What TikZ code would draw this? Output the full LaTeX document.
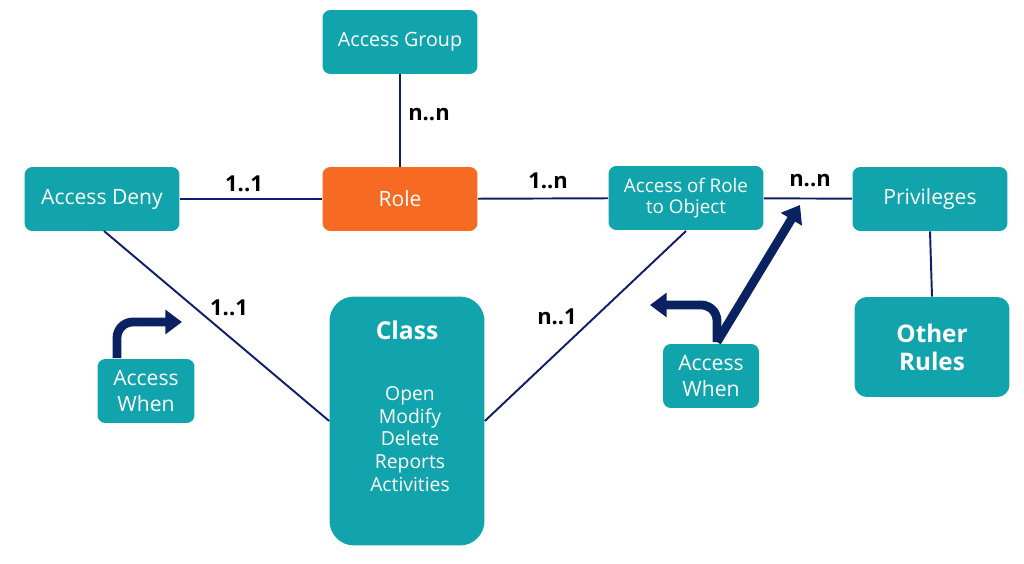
\documentclass[tikz,border=0pt]{standalone}
\usepackage{fontspec}
\setmainfont{Open Sans}
\usetikzlibrary{arrows.meta}
\definecolor{teal1}{HTML}{12A4AD}
\definecolor{orange1}{HTML}{F76A21}
\definecolor{navy1}{HTML}{0F1E6A}
\definecolor{navy2}{HTML}{0A2262}
\tikzset{
  box/.style={fill=teal1, text=white, rounded corners=4.5pt, minimum width=3.1cm, minimum height=1.28cm, align=center, inner sep=2pt, font=\fontsize{12}{14.7}\selectfont},
  link/.style={draw=navy1, line width=1.1pt},
  card/.style={font=\bfseries\fontsize{12.5}{14}\selectfont, text=black},
  bigarrow/.style={draw=navy2, line width=5pt, rounded corners=9pt, -{Triangle[width=13.5pt,length=9.5pt]}}
}
\begin{document}
\begin{tikzpicture}[x=0.02cm,y=-0.02cm]
\useasboundingbox (0,0) rectangle (1024,564);
\node[box, font=\fontsize{11.2}{13}\selectfont] (group) at (400,42) {Access Group};
\node[box, fill=orange1] (role) at (400,199) {Role};
\node[box] (deny) at (102,199) {Access Deny};
\node[box, font=\fontsize{10.7}{12.3}\selectfont] (aro) at (686,198) {Access of Role\\to Object};
\node[box] (priv) at (930,199) {Privileges};
\node[box, minimum height=2cm, rounded corners=7pt, font=\bfseries\fontsize{13.8}{15.9}\selectfont] (rules) at (932,347) {Other\\Rules};
\node[box, minimum height=4.98cm, rounded corners=14pt] (class) at (407,421) {};
\node[font=\bfseries\fontsize{14}{16}\selectfont, text=white] (classt) at (407,330) {Class};
\node[text=white, align=center, font=\fontsize{11}{12.9}\selectfont] (classl) at (410,439) {Open\\Modify\\Delete\\Reports\\Activities};
\node[box, minimum width=1.94cm] (whenl) at (146,391) {Access\\When};
\node[box, minimum width=1.92cm] (whenr) at (711,376) {Access\\When};

\draw[link] (group) -- (role);
\draw[link] (deny) -- (role);
\draw[link] (role) -- (aro);
\draw[link] (aro) -- (priv);
\draw[link] (priv.south) -- (rules.north);
\draw[link] (104,231) coordinate (d1) -- (class.west);
\draw[link] (686,231) coordinate (a1) -- (class.east);

\node[card] (l1) at (429,115) {n..n};
\node[card] (l2) at (244,184) {1..1};
\node[card] (l3) at (548,181) {1..n};
\node[card] (l4) at (810,181) {n..n};
\node[card] (l5) at (229,308) {1..1};
\node[card] (l6) at (557,317) {n..1};

\coordinate (wl0) at (117,358);
\coordinate (wl1) at (117,322);
\coordinate (wl2) at (182,322);
\draw[bigarrow] (wl0) -- (wl1) -- (wl2);
\coordinate (wr0) at (717,342);
\coordinate (wr1) at (717,305);
\coordinate (wr2) at (650,305);
\coordinate (wr3) at (800,205);
\draw[bigarrow] (wr0) -- (wr1) -- (wr2);
\draw[bigarrow] (wr0) -- (wr3);
\end{tikzpicture}
\end{document}
